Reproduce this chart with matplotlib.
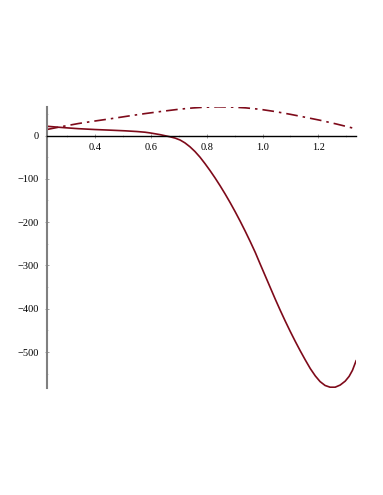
import matplotlib
matplotlib.use("Agg")
import matplotlib.pyplot as plt
from matplotlib.ticker import MultipleLocator

plt.rcParams.update({
    "font.family": ["Liberation Serif", "DejaVu Serif"],
    "font.size": 7.5,
})

# solid curve
x_solid = [0.227, 0.260, 0.292, 0.340, 0.400, 0.460, 0.508, 0.550, 0.579,
           0.597, 0.615, 0.633, 0.651, 0.669, 0.687, 0.705, 0.722, 0.740,
           0.758, 0.776, 0.794, 0.812, 0.830, 0.848, 0.866, 0.884, 0.902,
           0.920, 0.938, 0.956, 0.974, 0.991, 1.009, 1.027, 1.045, 1.063,
           1.081, 1.099, 1.117, 1.135, 1.153, 1.171, 1.189, 1.206, 1.224,
           1.242, 1.260, 1.278, 1.296, 1.310, 1.322, 1.335]
y_solid = [21.4, 19.6, 18.0, 15.8, 13.8, 12.2, 10.8, 9.2, 7.6,
           6.0, 4.0, 2.0, -0.5, -3.0, -6.0, -10.5, -17.0, -26.0,
           -37.0, -50.0, -65.0, -81.0, -98.0, -116.0, -135.0, -155.0, -176.0,
           -198.0, -221.0, -245.0, -270.0, -296.0, -323.0, -350.0, -377.0, -403.0,
           -428.0, -452.0, -475.0, -497.0, -518.0, -538.0, -555.0, -568.0, -577.0,
           -581.0, -581.0, -576.0, -567.0, -556.0, -542.0, -520.0]

# dash-dot curve
x_dash = [0.227, 0.280, 0.340, 0.400, 0.460, 0.520, 0.579, 0.640, 0.699,
          0.750, 0.788, 0.840, 0.884, 0.940, 0.991, 1.045, 1.099, 1.150,
          1.206, 1.265, 1.334]
y_dash = [13.8, 20.5, 27.6, 33.5, 39.1, 45.0, 50.6, 55.8, 60.5,
          63.6, 65.2, 66.2, 65.8, 63.8, 60.5, 55.3, 49.0, 42.5,
          35.2, 26.5, 15.5]

xmin, xmax = 0.227, 1.334
ymin, ymax = -583, 66
line_color = "#7E0A1A"

fig = plt.figure(figsize=(3.83, 4.95), dpi=100)
ax = fig.add_axes([0.122, 0.216, 0.807, 0.568])

ax.plot(x_solid, y_solid, color=line_color, lw=1.2)
ax.plot(x_dash, y_dash, color=line_color, lw=1.2,
        linestyle=(0, (7, 3, 1.5, 3)))

ax.set_xlim(xmin, xmax)
ax.set_ylim(ymin, ymax)

ax.spines["top"].set_visible(False)
ax.spines["right"].set_visible(False)
ax.spines["bottom"].set_position(("data", 0))
ax.spines["bottom"].set_color("black")
ax.spines["bottom"].set_linewidth(1.0)
ax.spines["left"].set_color("#808080")
ax.spines["left"].set_linewidth(1.5)

ax.set_xticks([0.4, 0.6, 0.8, 1.0, 1.2])
ax.set_xticklabels(["0.4", "0.6", "0.8", "1.0", "1.2"])
ax.xaxis.set_minor_locator(MultipleLocator(0.1))
ax.set_yticks([0, -100, -200, -300, -400, -500])
ax.yaxis.set_minor_locator(MultipleLocator(50))

ax.tick_params(axis="both", which="major", length=3, width=0.6,
               color="#909090", direction="inout", pad=4)
ax.tick_params(axis="both", which="minor", length=2, width=0.5,
               color="#b0b0b0", direction="inout")

fig.savefig("out.png", dpi=100)
